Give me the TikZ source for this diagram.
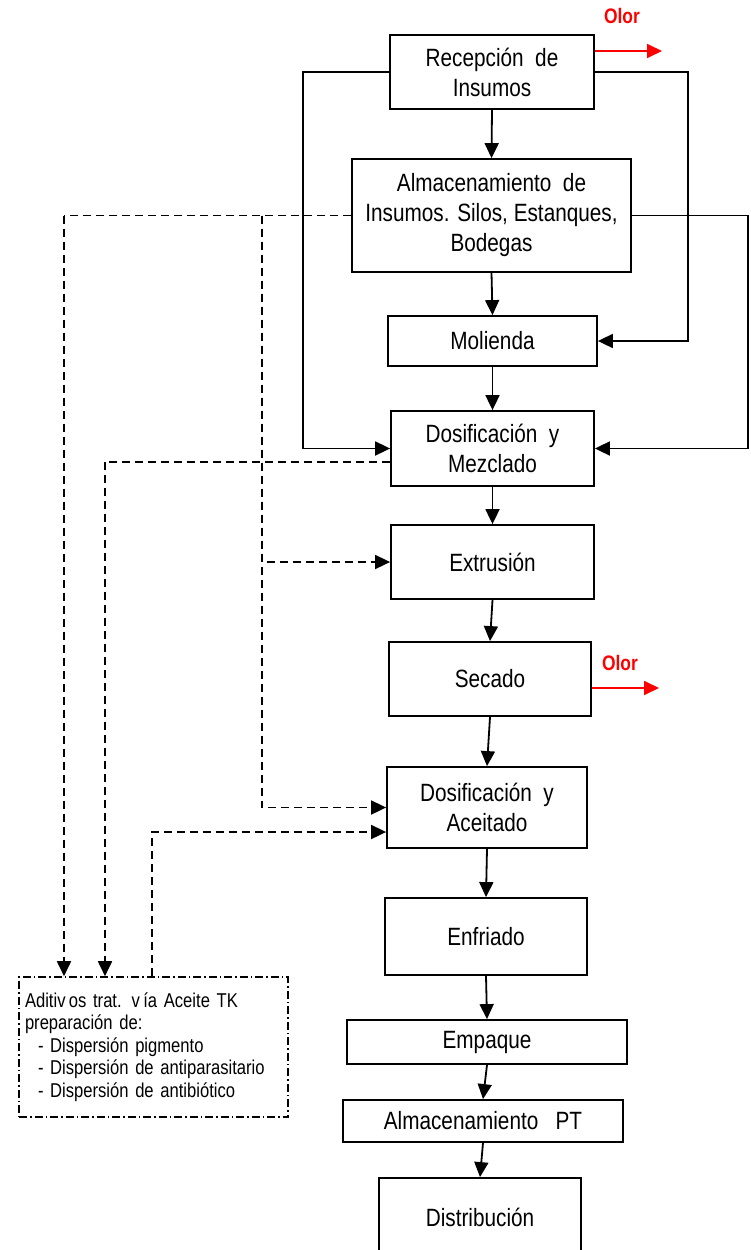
\documentclass[tikz,border=0pt]{standalone}
\usepackage{fontspec}
\setmainfont{Liberation Sans}[FakeStretch=0.83]
\usetikzlibrary{arrows.meta}
\begin{document}
\begin{tikzpicture}[x=1pt,y=-1pt,
  box/.style={draw,line width=1.8pt,align=center,inner sep=0pt,font=\fontsize{25}{30}\selectfont},
  arr/.style={line width=1.8pt,-{Triangle[length=15pt,width=14pt]}},
  dsh/.style={line width=1.8pt,dash pattern=on 8pt off 5pt},
  redarr/.style={line width=1.8pt,red,-{Triangle[length=15pt,width=14pt]}},
  olor/.style={text=red,font=\fontsize{21}{22}\selectfont\bfseries,inner sep=0pt}]
\useasboundingbox (0,0) rectangle (750,1250);
\fill[white] (0,0) rectangle (750,1250);

\node[box,minimum width=204pt,minimum height=74pt] (b1) at (492,72) {Recepción~~de\\Insumos};
\node[box,minimum width=279pt,minimum height=113pt] (b2) at (491.5,215.5) {Almacenamiento~~de\\Insumos. Silos, Estanques,\\Bodegas};
\node[box,minimum width=209pt,minimum height=50pt] (b3) at (492.5,341) {Molienda};
\node[box,minimum width=203pt,minimum height=75pt] (b4) at (492.5,448.5) {Dosificación~~y\\Mezclado};
\node[box,minimum width=203pt,minimum height=74pt] (b5) at (492.5,562) {Extrusión};
\node[box,minimum width=202pt,minimum height=74pt] (b6) at (490,679) {Secado};
\node[box,minimum width=200pt,minimum height=81pt] (b7) at (487,807.5) {Dosificación~~y\\Aceitado};
\node[box,minimum width=202pt,minimum height=77pt] (b8) at (486,936.5) {Enfriado};
\node[box,minimum width=280pt,minimum height=44pt] (b9) at (487,1042) {Empaque};
\node[box,minimum width=280pt,minimum height=42pt] (b10) at (483,1121) {Almacenamiento~~~PT};
\node[box,minimum width=202pt,minimum height=78pt] (b11) at (480,1217) {Distribución};

\node[draw,line width=1.6pt,dash pattern=on 8pt off 3pt on 1.5pt off 3pt,
  minimum height=140pt,text width=257pt,inner xsep=6pt,inner ysep=0pt,align=left,
  font=\fontsize{20}{22.5}\selectfont] (ad) at (153.5,1047)
  {Aditiv\,os trat. v\,ía Aceite TK\\preparación de:\\\hspace*{13pt}- Dispersión pigmento\\\hspace*{13pt}- Dispersión de antiparasitario\\\hspace*{13pt}- Dispersión de antibiótico};

% main chain
\draw[arr] (b1.south) -- (b2.north);
\draw[arr] (b2.south) -- (b3.north);
\draw[arr] (b3.south) -- (b4.north);
\draw[arr] (b4.south) -- (b5.north);
\draw[arr] (b5.south) -- (b6.north);
\draw[arr] (b6.south) -- (b7.north);
\draw[arr] (b7.south) -- (b8.north);
\draw[arr] (b8.south) -- (b9.north);
\draw[arr] (b9.south) -- (b10.north);
\draw[arr] (b10.south) -- (b11.north);

% bypass loops
\coordinate (L1) at (303,72);
\coordinate (R1) at (688,72);
\coordinate (R2) at (748,215.5);
\draw[arr] (b1.west) -- (L1) |- (b4.west);
\draw[arr] (b1.east) -- (R1) |- (b3.east);
\draw[arr] (b2.east) -- (R2) |- (b4.east);

% dashed additive lines
\coordinate (D1) at (64,215.5);
\coordinate (D2) at (262,215.5);
\coordinate (D3) at (105,462);
\coordinate (D4) at (152,832);
\draw[dsh] (b2.west) -- (D1);
\draw[dsh,arr] (D1) -- (D1 |- ad.north);
\draw[dsh,arr] (D2) |- (b5.west);
\draw[dsh,arr] (D2) |- (b7.west);
\draw[dsh] ([yshift=-13.5pt]b4.west) -- (D3);
\draw[dsh,arr] (D3) -- (D3 |- ad.north);
\draw[dsh,arr] (D4 |- ad.north) -- (D4) -- ([yshift=-24.5pt]b7.west);

% odour emissions
\coordinate (O1) at (662,51);
\coordinate (O2) at (659,688);
\draw[redarr] (b1.east |- O1) -- (O1);
\draw[redarr] (b6.east |- O2) -- (O2);
\node[olor] (t1) at (622,16) {Olor};
\node[olor] (t2) at (620,663) {Olor};
\end{tikzpicture}
\end{document}
